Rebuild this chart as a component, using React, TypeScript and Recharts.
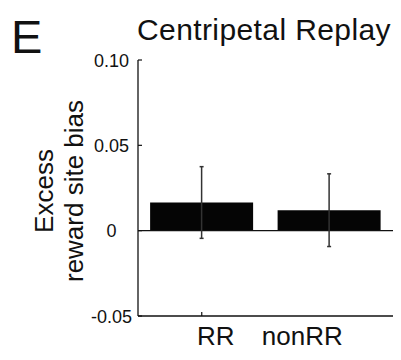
import { Bar, BarChart, ErrorBar, ReferenceLine, XAxis, YAxis } from "recharts";

// bias per replay group, with standard error
const groups = ["RR", "nonRR"];
const bias = [0.0165, 0.012];
const biasErr = [0.021, 0.0213];
const yTicks = [-0.05, 0, 0.05, 0.1];

const rows = groups.map((g, i) => ({ group: g, bias: bias[i], err: biasErr[i] }));

const FONT = "'Liberation Sans', Arial, Helvetica, sans-serif";
const INK = "#111";

// category labels sit a little off the bar centres
const labelShift: Record<string, number> = { RR: 14, nonRR: -27 };

function YTick(props: any) {
  const { x, y, payload } = props;
  const v: number = payload.value;
  const text = v === 0 ? "0" : v.toFixed(2);
  return (
    <g>
      <line x1={x} x2={x + 4} y1={y} y2={y} stroke={INK} strokeWidth={1.2} />
      <text
        x={x - 26.5}
        y={y}
        dy={6.5}
        textAnchor="middle"
        fontFamily={FONT}
        fontSize={18}
        fill={INK}
      >
        {text}
      </text>
    </g>
  );
}

function XTick(props: any) {
  const { x, y, payload } = props;
  const name: string = payload.value;
  return (
    <g>
      {name === "RR" && (
        <line x1={x} x2={x} y1={y} y2={y - 4} stroke={INK} strokeWidth={1.2} />
      )}
      <text
        x={x + (labelShift[name] ?? 0)}
        y={y}
        dy={29}
        textAnchor="middle"
        fontFamily={FONT}
        fontSize={26}
        fill={INK}
      >
        {name}
      </text>
    </g>
  );
}

export default function App() {
  return (
    <div style={{ position: "absolute", left: 0, top: 0, width: 401, height: 360, background: "#fff" }}>
      <BarChart
        width={401}
        height={360}
        data={rows}
        margin={{ top: 60, right: 8, bottom: 0, left: 0 }}
        barCategoryGap="9.5%"
      >
        <YAxis
          type="number"
          domain={[-0.05, 0.1]}
          ticks={yTicks}
          width={138}
          tickSize={0}
          tickMargin={0}
          tickLine={false}
          axisLine={{ stroke: INK, strokeWidth: 1.3 }}
          tick={<YTick />}
          interval={0}
          allowDataOverflow
        />
        <XAxis
          dataKey="group"
          type="category"
          height={44}
          tickSize={0}
          tickMargin={0}
          tickLine={false}
          axisLine={{ stroke: INK, strokeWidth: 1.3 }}
          tick={<XTick />}
          interval={0}
        />
        <ReferenceLine y={0} stroke={INK} strokeWidth={1.3} ifOverflow="extendDomain" />
        <Bar dataKey="bias" fill="#050505" isAnimationActive={false}>
          <ErrorBar dataKey="err" width={2} stroke="#333" strokeWidth={1.5} direction="y" />
        </Bar>
      </BarChart>
      <svg
        width={401}
        height={360}
        style={{ position: "absolute", left: 0, top: 0, pointerEvents: "none" }}
      >
        <text x={11} y={53} fontFamily={FONT} fontSize={47} fill={INK}>
          E
        </text>
        <text x={137} y={39.5} fontFamily={FONT} fontSize={30} letterSpacing={0.4} fill={INK}>
          Centripetal Replay
        </text>
        <g fontFamily={FONT} fontSize={26} fill={INK} textAnchor="middle">
          <text transform="translate(53,191) rotate(-90)">Excess</text>
          <text transform="translate(83,191) rotate(-90)">reward site bias</text>
        </g>
      </svg>
    </div>
  );
}
